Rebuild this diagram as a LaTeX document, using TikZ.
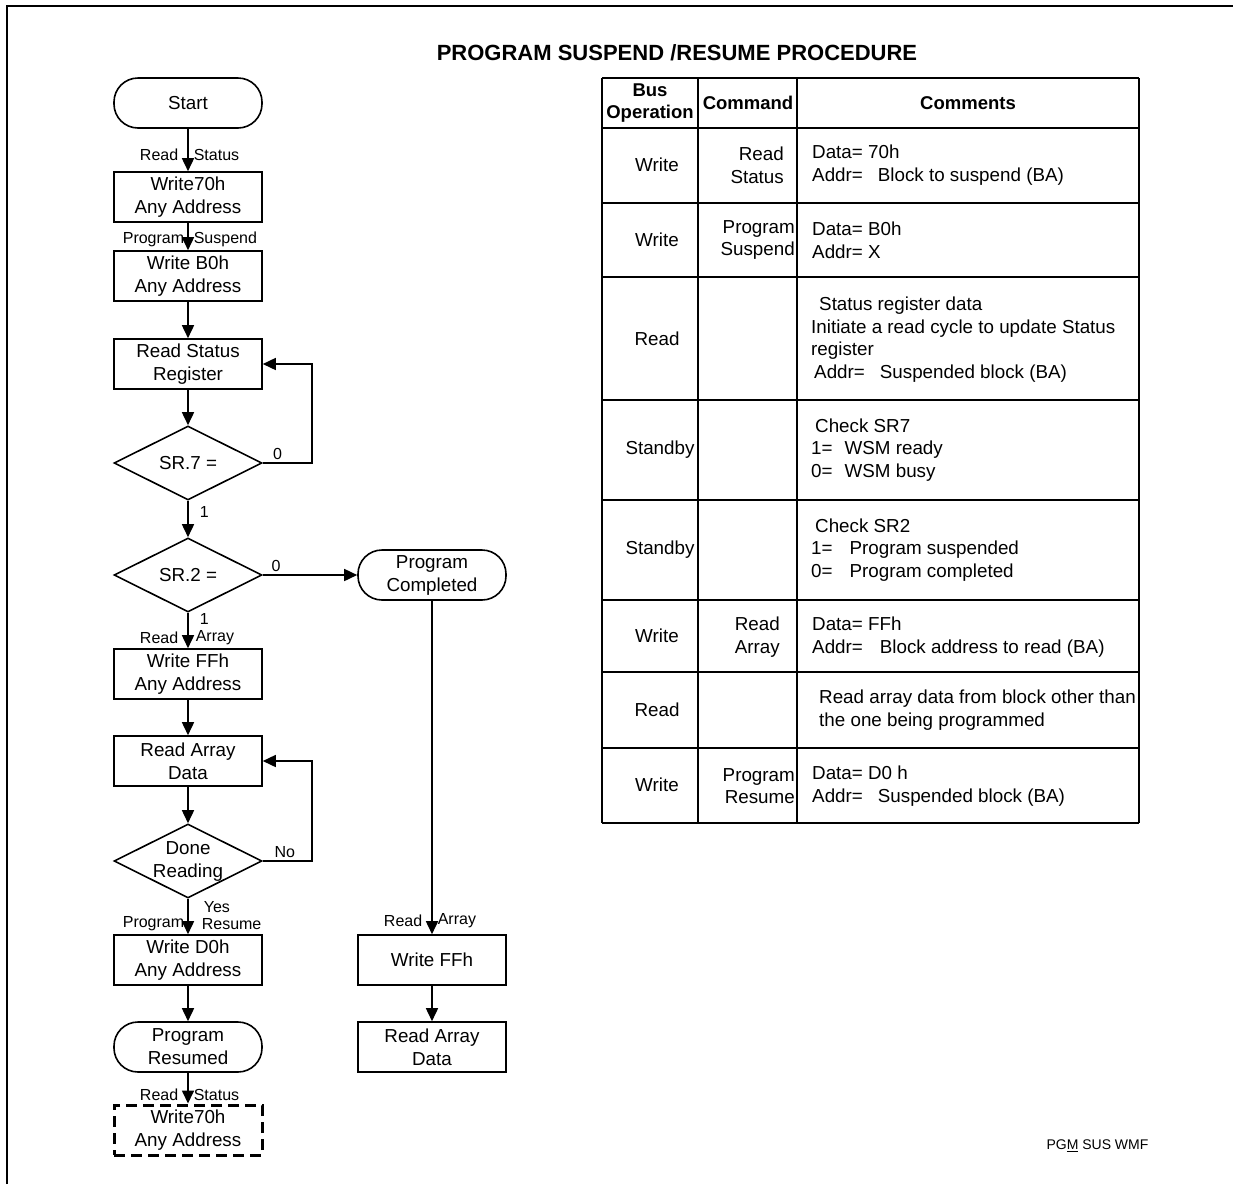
\documentclass[tikz,border=0pt]{standalone}
\usepackage{fontspec}
\setmainfont{Liberation Sans}
\usetikzlibrary{shapes.geometric,arrows.meta}
\tikzset{%
    term/.style={%
        draw, rectangle, rounded corners=24pt, line width=1.6pt,
        minimum width=148pt, minimum height=50pt, inner sep=0pt,
        align=center, font=\fontsize{18.8}{23}\selectfont
    },
    proc/.style={%
        draw, rectangle, line width=1.6pt,
        minimum width=148pt, minimum height=50pt, inner sep=0pt,
        align=center, font=\fontsize{18.8}{23}\selectfont
    },
    pending/.style={%
        proc, line width=3pt, dash pattern=on 11pt off 6pt
    },
    decision/.style={%
        draw, diamond, line width=1.6pt,
        minimum width=148pt, minimum height=74pt, inner sep=0pt
    },
    dtext/.style={font=\fontsize{18.8}{23}\selectfont, align=center},
    flow/.style={line width=1.6pt, -{Triangle[length=13pt,width=12pt]}},
    lbl/.style={font=\fontsize{16}{18}\selectfont, inner sep=3pt},
    tbl/.style={line width=1.8pt},
    cell/.style={font=\fontsize{18.8}{22.7}\selectfont, inner sep=0pt},
    head/.style={cell, font=\fontsize{18.5}{22.7}\selectfont\bfseries, align=center},
    cmd/.style={cell, anchor=east, align=right},
    note/.style={cell, anchor=west, align=left}
}

\begin{document}
\begin{tikzpicture}[x=1pt, y=-1pt]
    \useasboundingbox (0,0) rectangle (1233,1184);
    \draw[line width=2pt] (7,1184) -- (7,6) -- (1233,6);

    \node[font=\fontsize{22}{26}\selectfont\bfseries] (title) at (677,53)
        {PROGRAM SUSPEND /RESUME PROCEDURE};

    % flow chart
    \node[term] (start) at (188,103) {Start};
    \node[proc] (w70) at (188,197) {Write70h\\Any Address};
    \node[proc] (wb0) at (188,276) {Write B0h\\Any Address};
    \node[proc] (rdsr) at (188,364) {Read Status\\Register};
    \node[decision, label={[dtext]center:SR.7 =}] (sr7) at (188,463) {};
    \node[decision, label={[dtext]center:SR.2 =}] (sr2) at (188,575) {};
    \node[term] (pcomp) at (432,575) {Program\\Completed};
    \node[proc] (wff) at (188,674) {Write FFh\\Any Address};
    \node[proc] (rdarr) at (188,761) {Read Array\\Data};
    \node[decision, label={[dtext]center:Done\\Reading}] (done) at (188,861) {};
    \node[proc] (wd0) at (188,960) {Write D0h\\Any Address};
    \node[term] (presum) at (188,1047) {Program\\Resumed};
    \node[pending] (w70b) at (188,1130) {Write70h\\Any Address};
    \node[proc] (wff2) at (432,960) {Write FFh};
    \node[proc] (rdarr2) at (432,1047) {Read Array\\Data};

    \draw[flow] (start) -- node[lbl, pos=.61, left, xshift=-6pt] {Read}
        node[lbl, pos=.61, right, xshift=2pt] {Status} (w70);
    \draw[flow] (w70) -- node[lbl, pos=.6, left] {Program}
        node[lbl, pos=.6, right, xshift=2pt] {Suspend} (wb0);
    \draw[flow] (wb0) -- (rdsr);
    \draw[flow] (rdsr) -- (sr7);
    \draw[flow] (sr7.east) -- node[lbl, above, pos=.3] {0} ++(49,0) |- (rdsr.east);
    \draw[flow] (sr7) -- node[lbl, pos=.3, right, xshift=8pt] {1} (sr2);
    \draw[flow] (sr2) -- node[lbl, above, pos=.14] {0} (pcomp);
    \draw[flow] (sr2) -- node[lbl, pos=.18, right, xshift=8pt] {1}
        node[lbl, pos=.7, left, xshift=-6pt] {Read}
        node[lbl, pos=.7, right, xshift=4pt] {Array} (wff);
    \draw[flow] (wff) -- (rdarr);
    \draw[flow] (rdarr) -- (done);
    \draw[flow] (done.east) -- node[lbl, above, pos=.45] {No} ++(49,0) |- (rdarr.east);
    \draw[flow] (done) -- node[lbl, pos=.22, right, xshift=12pt] {Yes}
        node[lbl, pos=.7, left] {Program}
        node[lbl, pos=.7, right, xshift=10pt] {Resume} (wd0);
    \draw[flow] (wd0) -- (presum);
    \draw[flow] (presum) -- node[lbl, pos=.73, left, xshift=-6pt] {Read}
        node[lbl, pos=.73, right, xshift=2pt] {Status} (w70b);
    \draw[flow] (pcomp) -- node[lbl, pos=.96, left, xshift=-6pt] {Read}
        node[lbl, pos=.96, right, xshift=2pt] {Array} (wff2);
    \draw[flow] (wff2) -- (rdarr2);

    % table
    \foreach \y in {78,128,203,277,400,500,600,672,748,823}
        \draw[tbl] (602,\y) -- (1139,\y);
    \foreach \x in {602,698,797,1139}
        \draw[tbl] (\x,78) -- (\x,823);

    \node[head] (hbus) at (650,103) {Bus\\Operation};
    \node[head] (hcmd) at (748,103) {Command};
    \node[head] (hcom) at (968,103) {Comments};

    \node[cell] (op1) at (657,165) {Write};
    \node[cmd] (cmd1) at (784,165) {Read\\Status};
    \node[note] (com1) at (812,165) {Data= 70h\\Addr=\hspace{15pt}Block to suspend (BA)};

    \node[cell] (op2) at (657,240) {Write};
    \node[cmd] (cmd2) at (795,240) {Program\\Suspend};
    \node[note] (com2) at (812,240) {Data= B0h\\Addr= X};

    \node[cell] (op3) at (657,339) {Read};
    \node[note] (com3) at (811,339.5) {\hspace*{8pt}Status register data\\Initiate a read cycle to update Status\\register\\\hspace*{3pt}Addr=\hspace{15pt}Suspended block (BA)};

    \node[cell] (op4) at (660,450) {Standby};
    \node[note] (com4) at (811,450) {\hspace*{4pt}Check SR7\\1=\hspace{12pt}WSM ready\\0=\hspace{12pt}WSM busy};

    \node[cell] (op5) at (660,550) {Standby};
    \node[note] (com5) at (811,550) {\hspace*{4pt}Check SR2\\1=\hspace{17pt}Program suspended\\0=\hspace{17pt}Program completed};

    \node[cell] (op6) at (657,636) {Write};
    \node[cmd] (cmd6) at (780,637) {Read\\Array};
    \node[note] (com6) at (812,637) {Data= FFh\\Addr=\hspace{17pt}Block address to read (BA)};

    \node[cell] (op7) at (657,710) {Read};
    \node[note] (com7) at (819,710) {Read array data from block other than\\the one being programmed};

    \node[cell] (op8) at (657,785) {Write};
    \node[cmd] (cmd8) at (795,786) {Program\\Resume};
    \node[note] (com8) at (812,786) {Data= D0 h\\Addr=\hspace{15pt}Suspended block (BA)};

    \node[font=\fontsize{14}{16}\selectfont, anchor=west] (tag) at (1043,1146)
        {PG\underline{M} SUS WMF};
\end{tikzpicture}
\end{document}
